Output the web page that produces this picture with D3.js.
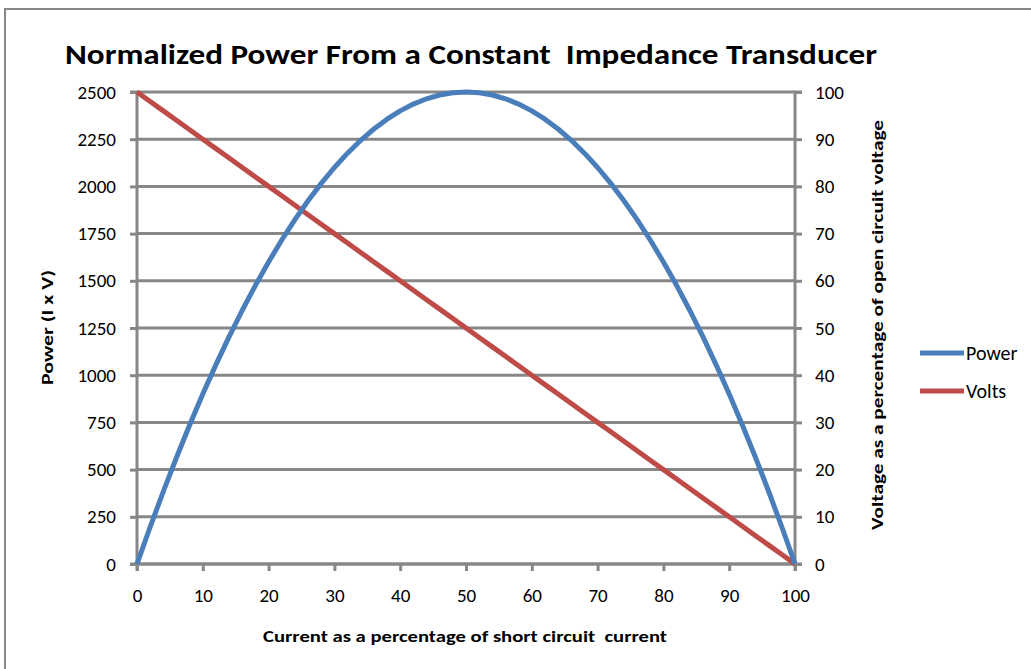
<!DOCTYPE html>
<html><head><meta charset="utf-8">
<script src="https://cdn.jsdelivr.net/npm/d3@7"></script>
<style>body{margin:0;background:#fff;}svg{display:block;font-family:Carlito,Lato,"Liberation Sans",sans-serif;}</style>
</head><body><svg id="c" width="1031" height="669"></svg>
<script>
const current = [0,2,4,6,8,10,12,14,16,18,20,22,24,26,28,30,32,34,36,38,40,42,44,46,48,50,52,54,56,58,60,62,64,66,68,70,72,74,76,78,80,82,84,86,88,90,92,94,96,98,100];
const power = [0,196,384,564,736,900,1056,1204,1344,1476,1600,1716,1824,1924,2016,2100,2176,2244,2304,2356,2400,2436,2464,2484,2496,2500,2496,2484,2464,2436,2400,2356,2304,2244,2176,2100,2016,1924,1824,1716,1600,1476,1344,1204,1056,900,736,564,384,196,0];
const volts = [100,98,96,94,92,90,88,86,84,82,80,78,76,74,72,70,68,66,64,62,60,58,56,54,52,50,48,46,44,42,40,38,36,34,32,30,28,26,24,22,20,18,16,14,12,10,8,6,4,2,0];
const xTicks = [0,10,20,30,40,50,60,70,80,90,100];
const leftTicks = [0,250,500,750,1000,1250,1500,1750,2000,2250,2500];
const rightTicks = [0,10,20,30,40,50,60,70,80,90,100];
const seriesNames = ["Power","Volts"];
const colors = ["#4a7ebb","#be4b48"];

const svg = d3.select("#c");
const L=137,R=795,T=92,B=564;
const gray="#878787";
const FF="Carlito,Lato,'Liberation Sans',sans-serif";
svg.append("rect").attr("x",5).attr("y",9).attr("width",1040).attr("height",700).attr("fill","#fff").attr("stroke",gray).attr("stroke-width",2);

const x = d3.scaleLinear().domain([0,100]).range([L,R]);
const yL = d3.scaleLinear().domain([0,2500]).range([B,T]);
const yR = d3.scaleLinear().domain([0,100]).range([B,T]);

svg.append("g").selectAll("line").data(leftTicks).join("line")
  .attr("x1",L).attr("x2",R).attr("y1",d=>yL(d)).attr("y2",d=>yL(d))
  .attr("stroke",gray).attr("stroke-width",3);

const fs = "19px";
const gl = svg.append("g").attr("transform",`translate(${L},0)`).call(d3.axisLeft(yL).tickValues(leftTicks).tickFormat(d3.format("d")).tickSize(7).tickPadding(14));
const gr = svg.append("g").attr("transform",`translate(${R},0)`).call(d3.axisRight(yR).tickValues(rightTicks).tickFormat(d3.format("d")).tickSize(7).tickPadding(13));
const gx = svg.append("g").attr("transform",`translate(0,${B})`).call(d3.axisBottom(x).tickValues(xTicks).tickFormat(d3.format("d")).tickSize(7).tickPadding(18));
[gl,gr,gx].forEach(g=>{
  g.select(".domain").attr("stroke",gray).attr("stroke-width",3);
  g.selectAll(".tick line").attr("stroke",gray).attr("stroke-width",3);
  g.selectAll("text").attr("font-size",fs).attr("fill","#000").attr("font-family",FF);
});
gl.select(".domain").attr("d",`M-7,${B}H0V${T}H-7`);
gr.select(".domain").attr("d",`M7,${B}H0V${T}H7`);
gx.select(".domain").attr("d",`M${L},7V0H${R}V7`);

const line = d3.line();
const pts0 = current.map((c,i)=>[x(c),yL(power[i])]);
const pts1 = current.map((c,i)=>[x(c),yR(volts[i])]);
svg.append("path").attr("d",line(pts1)).attr("fill","none").attr("stroke",colors[1]).attr("stroke-width",5).attr("stroke-linejoin","round");
svg.append("path").attr("d",line(pts0)).attr("fill","none").attr("stroke",colors[0]).attr("stroke-width",5).attr("stroke-linejoin","round");

svg.append("text").attr("x",65).attr("y",64).attr("font-size","28px").attr("font-weight","bold")
  .attr("textLength",812).attr("lengthAdjust","spacingAndGlyphs")
  .text("Normalized Power From a Constant  Impedance Transducer").style("white-space","pre");
svg.append("text").attr("x",263).attr("y",642).attr("font-size","16px").attr("font-weight","bold")
  .attr("textLength",404).attr("lengthAdjust","spacingAndGlyphs")
  .text("Current as a percentage of short circuit  current").style("white-space","pre");
svg.append("text").attr("transform","translate(53,385) rotate(-90)").attr("font-size","16px").attr("font-weight","bold")
  .attr("textLength",115).attr("lengthAdjust","spacingAndGlyphs").text("Power (I x V)");
svg.append("text").attr("transform","translate(883,530) rotate(-90)").attr("font-size","16px").attr("font-weight","bold")
  .attr("textLength",410).attr("lengthAdjust","spacingAndGlyphs").text("Voltage as a percentage of open circuit voltage");

const lg = svg.append("g").selectAll("g").data(seriesNames).join("g").attr("transform",(d,i)=>`translate(920,${353+i*38})`);
lg.append("line").attr("x1",0).attr("x2",44).attr("stroke",(d,i)=>colors[i]).attr("stroke-width",5);
lg.append("text").attr("x",46).attr("y",7).attr("font-size","20px").attr("font-family",FF).text(d=>d);
</script></body></html>
